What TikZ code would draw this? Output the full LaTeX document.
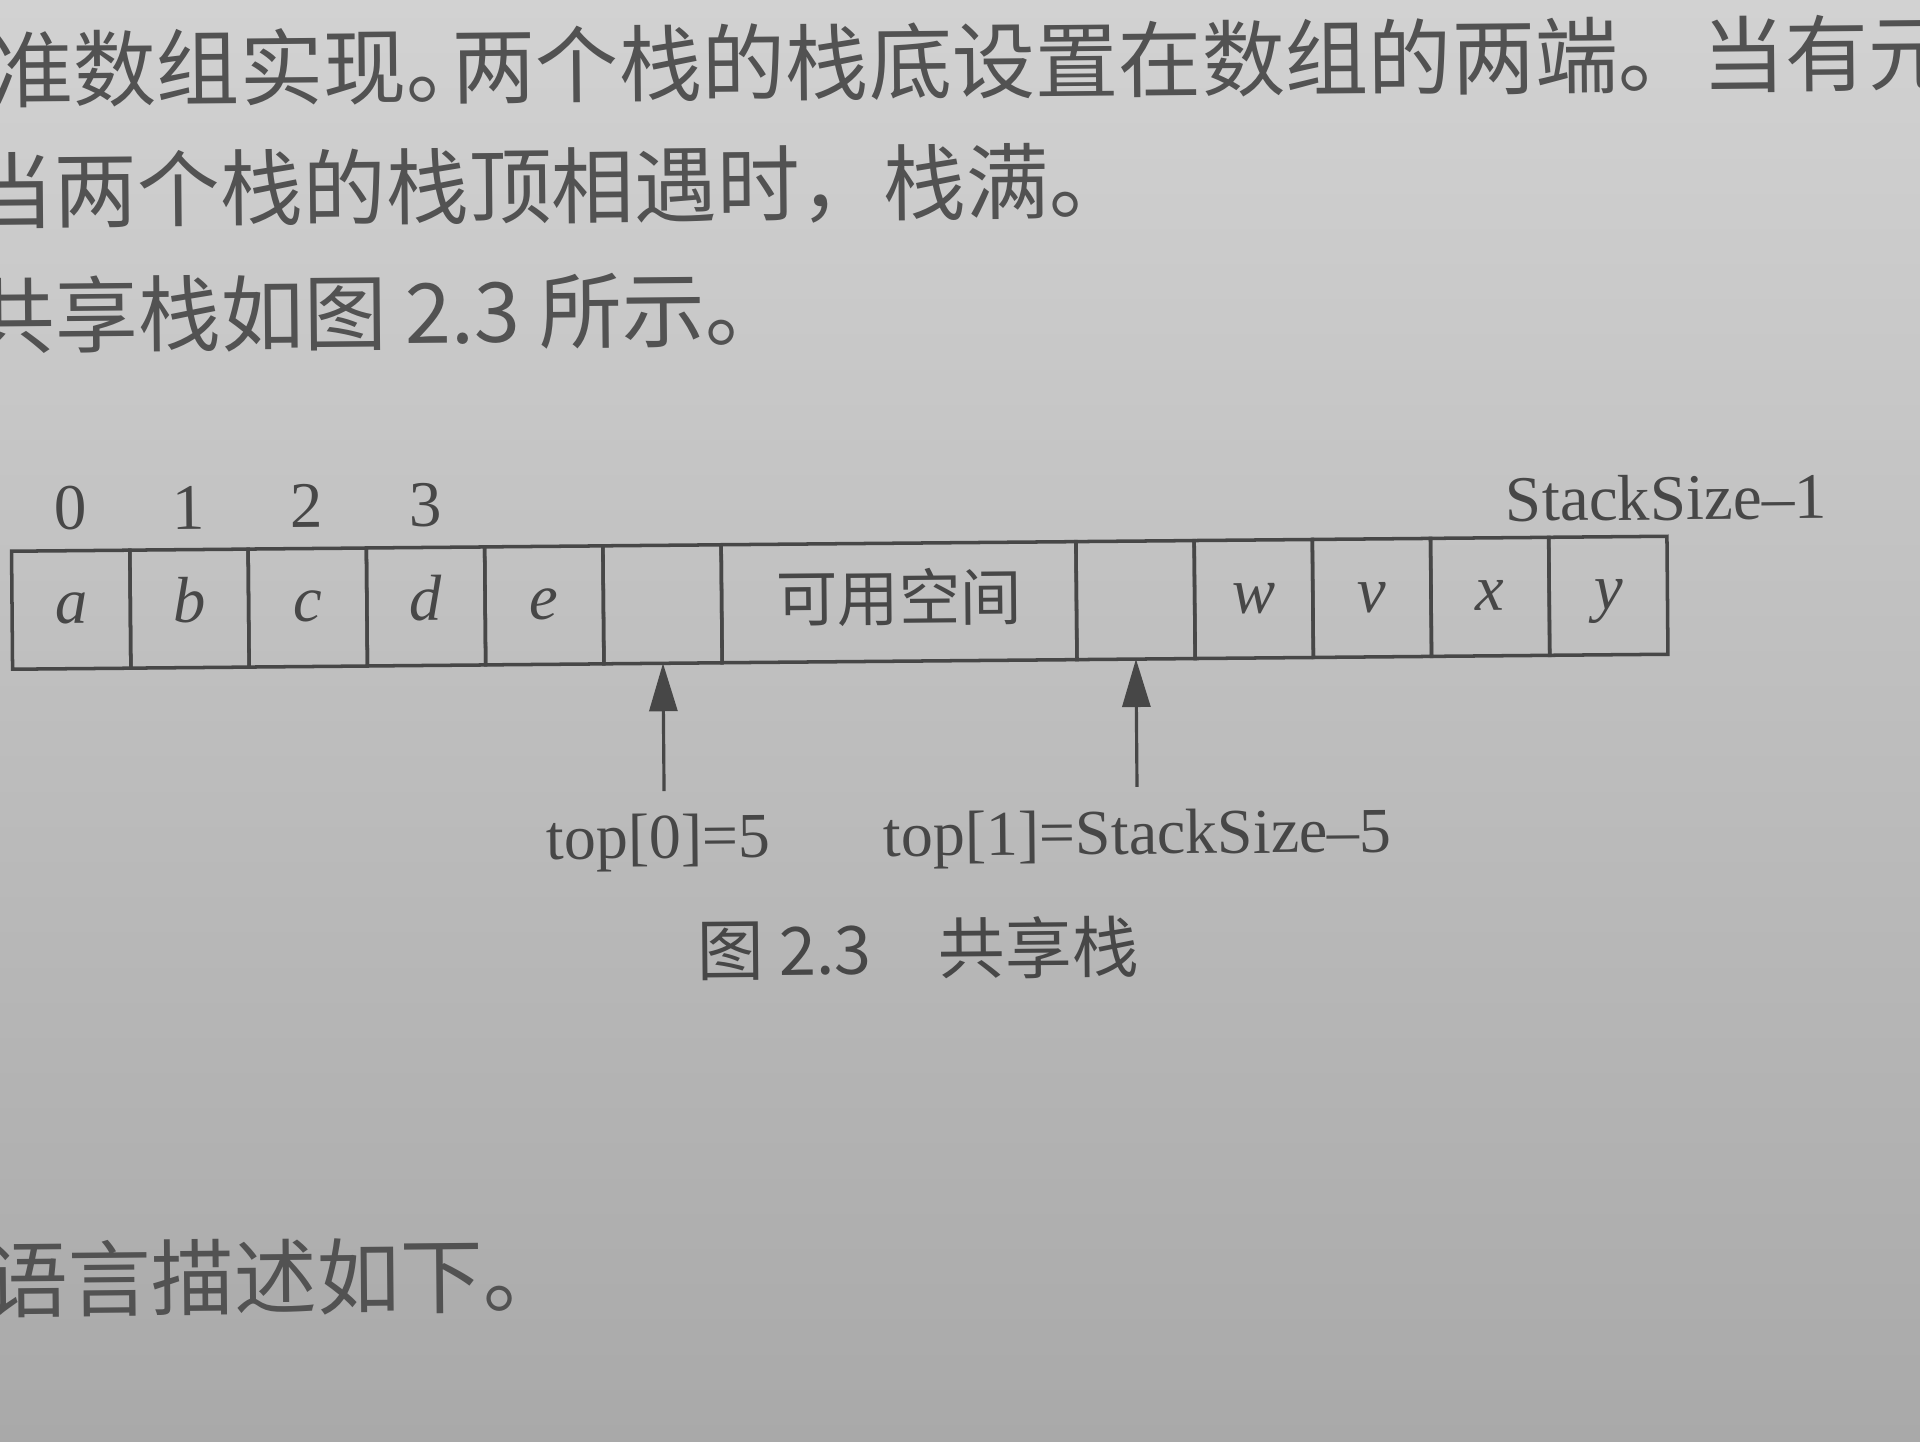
\documentclass[tikz,border=0pt]{standalone}
\usepackage{fontspec}
\setmainfont{Liberation Serif}
\newfontfamily\cjk{Noto Sans CJK SC}
\usetikzlibrary{arrows.meta,positioning}
\definecolor{ink}{HTML}{474747}
\definecolor{txt}{HTML}{525252}
\definecolor{paperA}{HTML}{D2D2D2}
\definecolor{paperB}{HTML}{A9A9A9}
\tikzset{
  cell/.style={draw=ink, line width=1pt, minimum width=11.83mm, minimum height=11.8mm,
    inner sep=0pt, outer sep=0pt, text height=4mm, text depth=1.2mm, text=ink,
    font=\fontsize{18.5}{20}\selectfont\itshape},
  widecell/.style={cell, minimum width=35.49mm, text height=5.2mm, text depth=1.5mm,
    font=\cjk\fontsize{17.5}{20}\selectfont},
  idx/.style={inner sep=0pt, text=ink, font=\fontsize{18.5}{20}\selectfont},
  lbl/.style={inner sep=0pt, text=ink, font=\fontsize{18.2}{20}\selectfont},
  arr/.style={draw=ink, line width=0.9pt, -{Triangle[length=4.8mm,width=2.8mm]}},
  body/.style={inner sep=0pt, anchor=west, text=txt, font=\cjk\fontsize{23.6}{24}\selectfont},
  captext/.style={inner sep=0pt, text=ink, font=\cjk\fontsize{19}{20}\selectfont},
}
\begin{document}
\begin{tikzpicture}[x=1mm,y=-1mm]
\useasboundingbox (0,0) rectangle (192,144.2);
\shade[top color=paperA, bottom color=paperB] (0,0) rectangle (192,144.2);
\clip (0,0) rectangle (192,144.2);
\begin{scope}[rotate around={0.5:(84,60.3)}, transform shape]
  % body text
  \node[body, font=\cjk\fontsize{23.7}{24}\selectfont] (p1) at (-0.6,6.2)
    {准数组实现。\hspace{-0.45em}两个栈的栈底设置在数组的两端。当有元};
  \node[body] (p2) at (-2.6,18.4) {当两个栈的栈顶相遇时，栈满。};
  \node[body] (p3) at (-2.6,30.8) {共享栈如图 2.3 所示。};
  \node[body] (p4) at (-2.1,127.2) {语言描述如下。};

  % array cells
  \node[cell] (c0) at (7.115,60.3) {a};
  \node[cell, anchor=west] (c1) at (c0.east) {b};
  \node[cell, anchor=west] (c2) at (c1.east) {c};
  \node[cell, anchor=west] (c3) at (c2.east) {d};
  \node[cell, anchor=west] (c4) at (c3.east) {e};
  \node[cell, anchor=west] (c5) at (c4.east) {};
  \node[widecell, anchor=west] (sp) at (c5.east) {可用空间};
  \node[cell, anchor=west] (c9) at (sp.east) {};
  \node[cell, anchor=west] (c10) at (c9.east) {w};
  \node[cell, anchor=west] (c11) at (c10.east) {v};
  \node[cell, anchor=west] (c12) at (c11.east) {x};
  \node[cell, anchor=west] (c13) at (c12.east) {y};

  % indices
  \node[idx, above=2.0mm of c0.north] (i0) {0};
  \node[idx, above=2.0mm of c1.north] (i1) {1};
  \node[idx, above=2.0mm of c2.north] (i2) {2};
  \node[idx, above=2.0mm of c3.north] (i3) {3};
  \node[idx, above=1.5mm of c13.north east] (iend) {StackSize--1};

  % pointers
  \coordinate[below=12.8mm of c5.south] (t0);
  \coordinate[below=12.8mm of c9.south] (t1);
  \draw[arr] (t0) -- (c5.south);
  \draw[arr] (t1) -- (c9.south);
  \node[lbl, below=2.2mm of t0, xshift=-0.6mm] (l0) {top[0]=5};
  \node[lbl, below=2.2mm of t1] (l1) {top[1]=StackSize--5};

  % caption
  \node[captext] (capt) at (91.5,94.9) {图 2.3\hspace{1em}共享栈};
\end{scope}
\end{tikzpicture}
\end{document}
